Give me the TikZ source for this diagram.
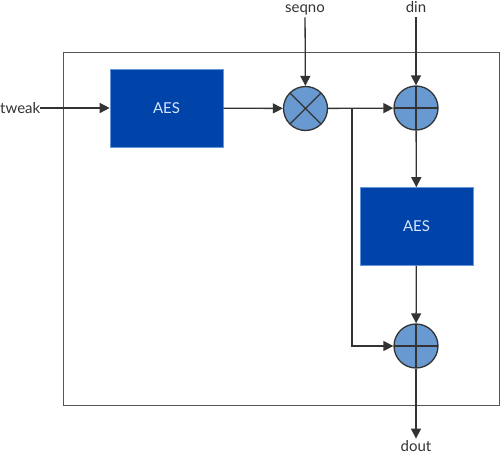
\documentclass[tikz,border=0pt]{standalone}
\usepackage{fontspec}
\setmainfont{Lato}
\usetikzlibrary{arrows.meta}
\definecolor{aesfill}{RGB}{0,68,170}
\definecolor{aesedge}{RGB}{100,150,220}
\definecolor{aestext}{RGB}{215,230,255}
\definecolor{opfill}{RGB}{104,153,208}
\definecolor{ink}{RGB}{51,51,51}
\definecolor{framec}{RGB}{85,85,85}
\begin{document}
\begin{tikzpicture}[x=1pt,y=-1pt,
  every node/.style={font=\fontsize{15}{17}\selectfont, text=ink},
  lbl/.style={inner sep=1.5pt, text height=11pt, text depth=3pt},
  aes/.style={draw=aesedge, line width=0.6pt, fill=aesfill, minimum width=113pt, minimum height=78pt, inner sep=0pt, text=aestext},
  opnode/.style={circle, draw=ink, line width=1.3pt, fill=opfill, minimum size=44pt, inner sep=0pt},
  xornode/.style={opnode, path picture={\draw[ink, line width=1.3pt] (path picture bounding box.north) -- (path picture bounding box.south) (path picture bounding box.west) -- (path picture bounding box.east);}},
  mulnode/.style={opnode, path picture={\draw[ink, line width=1.3pt] (path picture bounding box.north west) -- (path picture bounding box.south east) (path picture bounding box.north east) -- (path picture bounding box.south west);}},
  conn/.style={draw=ink, line width=1.3pt, -{Triangle[length=10pt,width=10pt]}},
  frame/.style={draw=framec, line width=1pt}
]
\useasboundingbox (0,0) rectangle (500,455);
\draw[frame] (63,52) rectangle (499,405);
\node[aes] (aes1) at (166.5,108) {AES};
\node[aes] (aes2) at (416.5,226.5) {AES};
\node[mulnode] (mul) at (305.5,108.5) {};
\node[xornode] (x1) at (416,108) {};
\node[xornode] (x2) at (416,346) {};
\node[anchor=west, inner sep=0pt] (tweak) at (0,108) {tweak};
\node[lbl, anchor=north] (seqno) at (305,0) {seqno};
\node[lbl, anchor=north] (din) at (416,0) {din};
\node[lbl, anchor=south, text depth=0pt] (dout) at (416,453) {dout};
\coordinate (br) at (352,108.5);
\draw[conn] (tweak) -- (aes1);
\draw[conn] (aes1) -- (mul);
\draw[conn] (seqno) -- (mul);
\draw[conn] (din) -- (x1);
\draw[conn] (mul) -- (x1);
\draw[conn] (x1) -- (aes2);
\draw[conn] (aes2) -- (x2);
\draw[conn] (br) |- (x2);
\draw[conn] (x2) -- (dout);
\end{tikzpicture}
\end{document}
